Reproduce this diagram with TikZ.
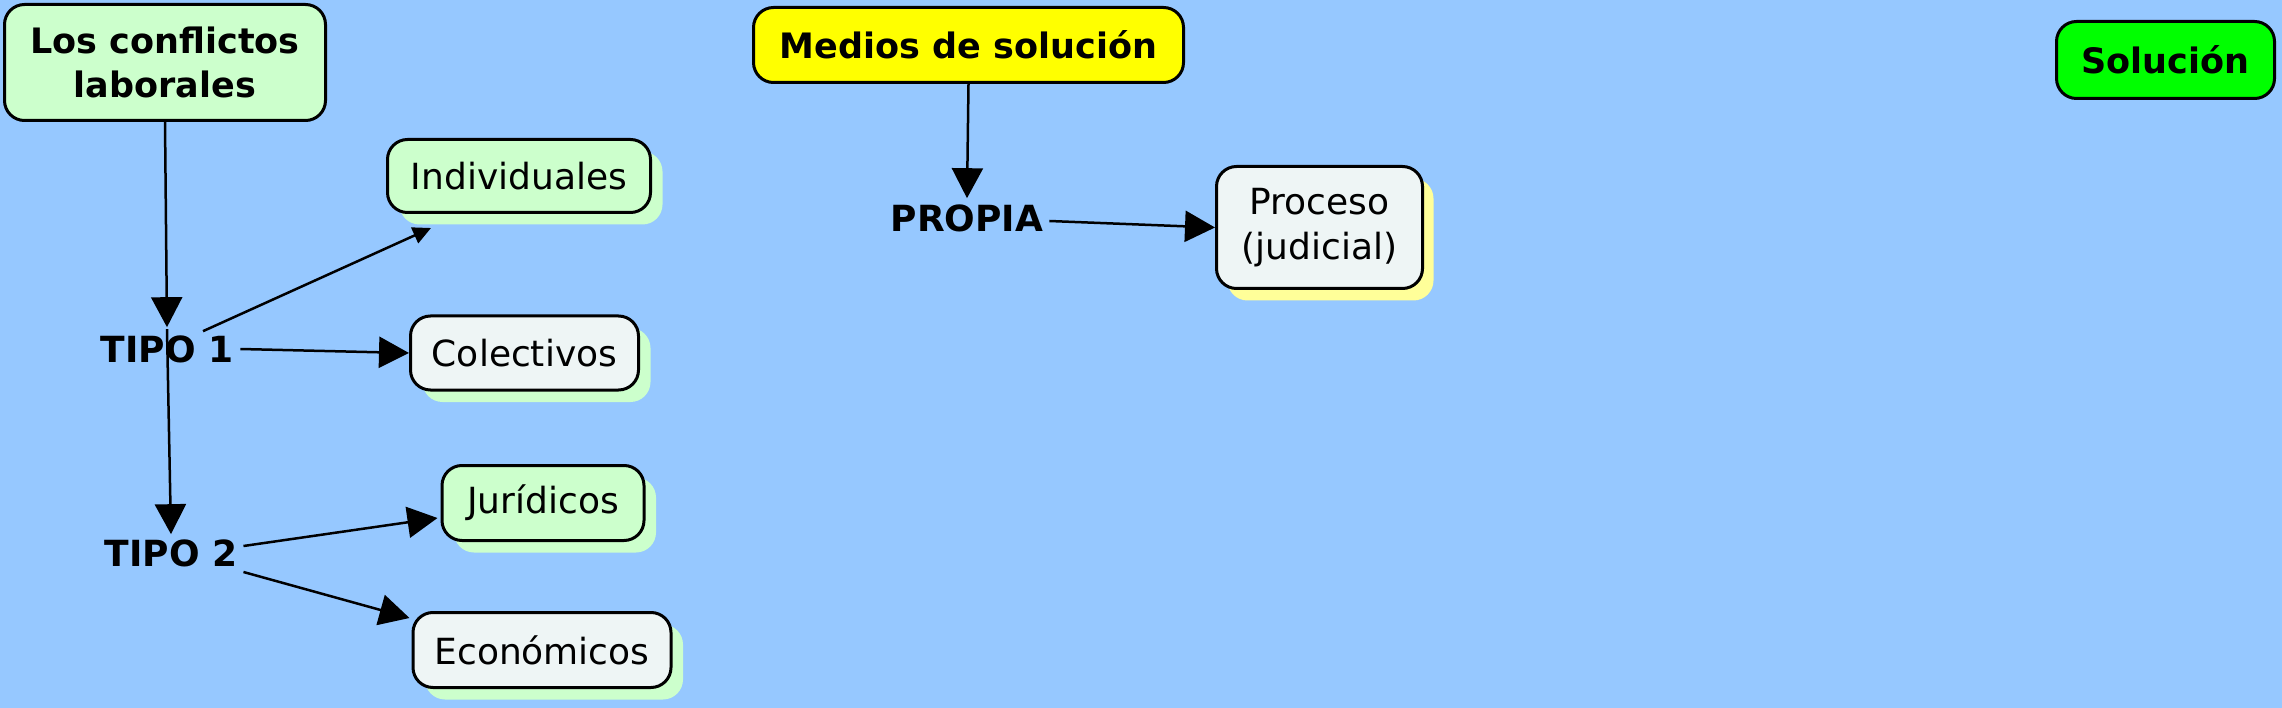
\documentclass[tikz,border=0pt]{standalone}
\usepackage{fontspec}
\setmainfont{DejaVu Sans}
\usetikzlibrary{arrows.meta,shadows}
\definecolor{bgblue}{RGB}{150,200,255}
\definecolor{lgreen}{RGB}{204,255,204}
\definecolor{lgray}{RGB}{238,245,245}
\definecolor{lyellow}{RGB}{255,255,153}
\definecolor{yel}{RGB}{255,255,0}
\definecolor{grn}{RGB}{0,255,0}
\begin{document}
\begin{tikzpicture}[x=1pt,y=-1pt,
  box/.style={draw=black, line width=3pt, rounded corners=20pt, inner sep=0pt, align=center, font=\fontsize{36}{45}\selectfont},
  bbox/.style={box, font=\fontsize{35}{44}\selectfont\bfseries},
  gshadow/.style={drop shadow={shadow xshift=12pt, shadow yshift=-12pt, fill=lgreen, opacity=1}},
  yshadow/.style={drop shadow={shadow xshift=11pt, shadow yshift=-12pt, fill=lyellow, opacity=1}},
  lbl/.style={inner sep=0pt, font=\fontsize{36}{44}\selectfont\bfseries},
  conn/.style={line width=2.5pt, -{Triangle[length=30pt,width=31pt]}},
  sconn/.style={line width=2.5pt, -{Triangle[length=18pt,width=17pt]}}
]
\fill[bgblue] (0,0) rectangle (2282,708);
\useasboundingbox (0,0) rectangle (2282,708);

\node[bbox, fill=lgreen, minimum width=321pt, minimum height=116pt] (c1) at (165,62.5) {Los conflictos\\laborales};
\node[bbox, fill=yel, minimum width=430pt, minimum height=75pt] (med) at (968.5,45) {Medios de solución};
\node[bbox, fill=grn, minimum width=218pt, minimum height=77pt] (sol) at (2165.5,60) {Solución};

\node[box, gshadow, fill=lgreen, minimum width=263pt, minimum height=73pt] (ind) at (519,176) {Individuales};
\node[box, gshadow, fill=lgray, minimum width=228pt, minimum height=74pt] (col) at (524.5,353) {Colectivos};
\node[box, gshadow, fill=lgreen, minimum width=202pt, minimum height=75pt] (jur) at (543,503) {Jurídicos};
\node[box, gshadow, fill=lgray, minimum width=258pt, minimum height=75pt] (eco) at (542,650) {Económicos};
\node[box, yshadow, fill=lgray, minimum width=206pt, minimum height=122pt] (proc) at (1319.5,227.5) {Proceso\\(judicial)};

\node[lbl] (t1) at (167,349) {TIPO 1};
\node[lbl] (t2) at (171,553) {TIPO 2};
\node[lbl] (p) at (967,218) {PROPIA};

\draw[conn] (c1.south) -- ([yshift=8pt]t1.north);
\draw[conn] ([yshift=6pt]t1.north) -- ([yshift=5pt]t2.north);
\draw[sconn] ([xshift=36pt,yshift=4pt]t1.north) -- ([xshift=45pt,yshift=-14pt]ind.south west);
\draw[conn] ([xshift=7pt]t1.east) -- (col.west);
\draw[conn] ([xshift=6pt,yshift=7pt]t2.east) -- ([xshift=-3pt,yshift=-15pt]jur.west);
\draw[conn] ([xshift=6pt,yshift=-19pt]t2.east) -- ([xshift=-2pt,yshift=-7pt]eco.north west);
\draw[conn] (med.south) -- ([yshift=6pt]p.north);
\draw[conn] ([xshift=6pt,yshift=-3pt]p.east) -- (proc.west);
\end{tikzpicture}
\end{document}
